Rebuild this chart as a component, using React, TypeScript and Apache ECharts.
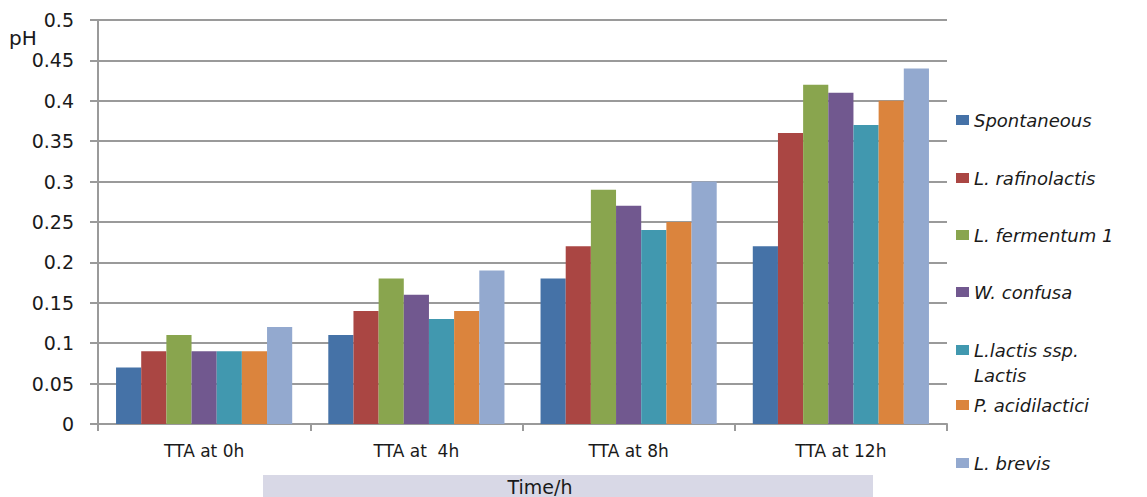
import React, { useEffect, useRef } from "react";
import * as echarts from "echarts";

const categories = ["TTA at 0h", "TTA at  4h", "TTA at 8h", "TTA at 12h"];
const seriesNames = [
  "Spontaneous",
  "L. rafinolactis",
  "L. fermentum 1",
  "W. confusa",
  "L.lactis ssp. Lactis",
  "P. acidilactici",
  "L. brevis",
];
const spontaneous = [0.07, 0.11, 0.18, 0.22];
const rafinolactis = [0.09, 0.14, 0.22, 0.36];
const fermentum1 = [0.11, 0.18, 0.29, 0.42];
const confusa = [0.09, 0.16, 0.27, 0.41];
const lactisLactis = [0.09, 0.13, 0.24, 0.37];
const acidilactici = [0.09, 0.14, 0.25, 0.4];
const brevis = [0.12, 0.19, 0.3, 0.44];
const seriesValues = [spontaneous, rafinolactis, fermentum1, confusa, lactisLactis, acidilactici, brevis];
const colors = ["#4572A7", "#AA4643", "#89A54E", "#71588F", "#4198AF", "#DB843D", "#93A9CF"];
const legendCenters = [122, 180, 237, 294, 352, 407, 465];

const FONT = "DejaVu Sans";
const TEXT = "#1a1a1a";
const LINE = "#9a9a9a";

export default function App() {
  const ref = useRef<HTMLDivElement>(null);

  useEffect(() => {
    if (!ref.current) return;
    const chart = echarts.init(ref.current, null, { renderer: "svg" });

    const legends = seriesNames.map((name, i) => ({
      data: [name],
      orient: "vertical",
      left: 956,
      top: legendCenters[i] - 11,
      padding: 0,
      icon: "rect",
      itemWidth: 13,
      itemHeight: 10,
      selectedMode: false,
      formatter: (n: string) => (n === "L.lactis ssp. Lactis" ? "L.lactis ssp." : n),
      textStyle: { fontFamily: FONT, fontSize: 18, fontStyle: "italic", color: TEXT },
    }));

    chart.setOption({
      animation: false,
      color: colors,
      grid: { left: 98, right: 200, top: 20, bottom: 73 },
      legend: legends,
      xAxis: {
        type: "category",
        data: categories,
        axisLine: { lineStyle: { color: LINE, width: 2 } },
        axisTick: { show: true, length: 7, lineStyle: { color: LINE, width: 2 } },
        axisLabel: { fontFamily: FONT, fontSize: 17, color: TEXT, margin: 18 },
      },
      yAxis: {
        type: "value",
        min: 0,
        max: 0.5,
        interval: 0.05,
        axisLine: { show: true, lineStyle: { color: LINE, width: 2 } },
        axisTick: { show: true, length: 8, lineStyle: { color: LINE, width: 2 } },
        axisLabel: { fontFamily: FONT, fontSize: 19, color: TEXT, margin: 24 },
        splitLine: { lineStyle: { color: LINE, width: 2 } },
      },
      series: seriesNames.map((name, i) => ({
        name,
        type: "bar",
        data: seriesValues[i],
        barGap: "0%",
        barCategoryGap: "17%",
        itemStyle: { color: colors[i] },
      })),
      graphic: [
        {
          type: "text",
          left: 9,
          top: 28,
          style: { text: "pH", fontFamily: FONT, fontSize: 20, fill: TEXT },
        },
        {
          type: "text",
          left: 974,
          top: 366,
          style: { text: "Lactis", fontFamily: FONT, fontSize: 18, fontStyle: "italic", fill: TEXT },
        },
        {
          type: "rect",
          shape: { x: 263, y: 475, width: 610, height: 30 },
          style: { fill: "#d8d8e6" },
        },
        {
          type: "text",
          x: 540,
          y: 487,
          style: {
            text: "Time/h",
            fontFamily: FONT,
            fontSize: 19,
            fill: TEXT,
            align: "center",
            verticalAlign: "middle",
          },
        },
      ],
    });

    return () => chart.dispose();
  }, []);

  return (
    <div
      ref={ref}
      style={{ position: "fixed", left: 0, top: 0, width: 1147, height: 497, background: "#fff" }}
    />
  );
}
